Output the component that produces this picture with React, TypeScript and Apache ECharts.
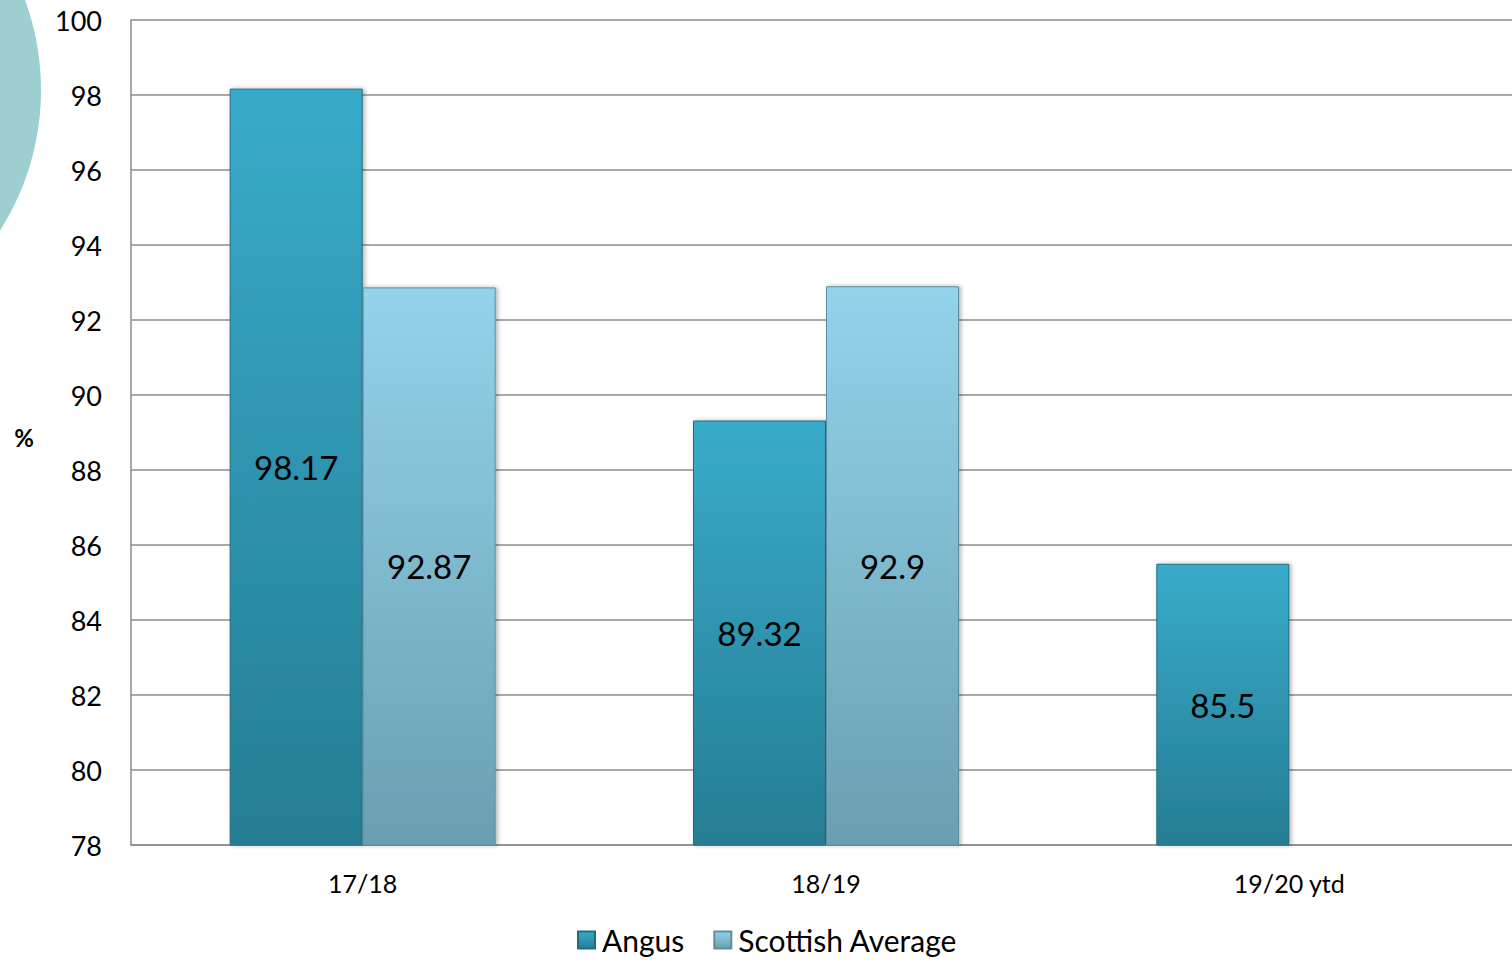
import React, { useEffect, useRef } from "react";
import * as echarts from "echarts";

const categories = ["17/18", "18/19", "19/20 ytd"];
const angus = [98.17, 89.32, 85.5];
const scottishAverage = [92.87, 92.9, null];
const yMin = 78;
const yMax = 100;
const yInterval = 2;

const FONT = "Lato, 'Open Sans', sans-serif";

export default function App() {
  const ref = useRef<HTMLDivElement>(null);
  useEffect(() => {
    if (!ref.current) return;
    const chart = echarts.init(ref.current, null, { renderer: "svg" });
    const grad = (top: string, bottom: string) =>
      new echarts.graphic.LinearGradient(0, 0, 0, 1, [
        { offset: 0, color: top },
        { offset: 1, color: bottom },
      ]);
    chart.setOption({
      animation: false,
      backgroundColor: "#ffffff",
      textStyle: { fontFamily: FONT },
      graphic: [
        {
          type: "circle",
          shape: { cx: -220, cy: 90, r: 261 },
          style: { fill: "#9dcfd0" },
          z: -10,
        },
        {
          type: "text",
          x: 24,
          y: 437,
          style: {
            text: "%",
            fontSize: 24,
            fontWeight: "bold",
            fontFamily: FONT,
            fill: "#000",
            align: "center",
            verticalAlign: "middle",
          },
        },
      ],
      grid: { left: 131, top: 20, bottom: 117, right: 0 },
      legend: {
        bottom: 2,
        left: 572,
        itemWidth: 17,
        itemHeight: 17,
        itemGap: 29,
        icon: "rect",
        textStyle: { fontSize: 30, color: "#000", fontFamily: FONT, padding: [0, 0, 0, 2] },
        data: ["Angus", "Scottish Average"],
      },
      xAxis: {
        type: "category",
        data: categories,
        axisLine: { lineStyle: { color: "#8c8c8c", width: 1.5 } },
        axisTick: { show: false },
        axisLabel: { fontSize: 25, color: "#000", margin: 25, fontFamily: FONT },
      },
      yAxis: {
        type: "value",
        min: yMin,
        max: yMax,
        interval: yInterval,
        axisLine: { show: true, lineStyle: { color: "#8c8c8c", width: 1.5 } },
        axisTick: { show: false },
        splitLine: { lineStyle: { color: "#8c8c8c", width: 1.5 } },
        axisLabel: { fontSize: 27, color: "#000", margin: 29, fontFamily: FONT },
      },
      series: [
        {
          name: "Angus",
          type: "bar",
          data: angus,
          barWidth: 133,
          barGap: "0%",
          itemStyle: {
            color: grad("#39abcb", "#257d93"),
            borderColor: "#1f6e80",
            borderWidth: 1,
            shadowColor: "rgba(0,0,0,0.3)",
            shadowBlur: 4,
            shadowOffsetX: 2,
          },
          label: {
            show: true,
            position: "inside",
            fontSize: 33,
            color: "#000",
            fontFamily: FONT,
          },
        },
        {
          name: "Scottish Average",
          type: "bar",
          data: scottishAverage,
          barWidth: 133,
          itemStyle: {
            color: grad("#93d3eb", "#6a9fb1"),
            borderColor: "#5f8e9e",
            borderWidth: 1,
            shadowColor: "rgba(0,0,0,0.3)",
            shadowBlur: 4,
            shadowOffsetX: 2,
          },
          label: {
            show: true,
            position: "inside",
            fontSize: 33,
            color: "#000",
            fontFamily: FONT,
          },
        },
      ],
    });
    return () => chart.dispose();
  }, []);
  return (
    <div
      style={{
        position: "absolute",
        left: 0,
        top: 0,
        width: 1512,
        height: 962,
        overflow: "hidden",
      }}
    >
      <div ref={ref} style={{ width: 1521, height: 962 }} />
    </div>
  );
}
